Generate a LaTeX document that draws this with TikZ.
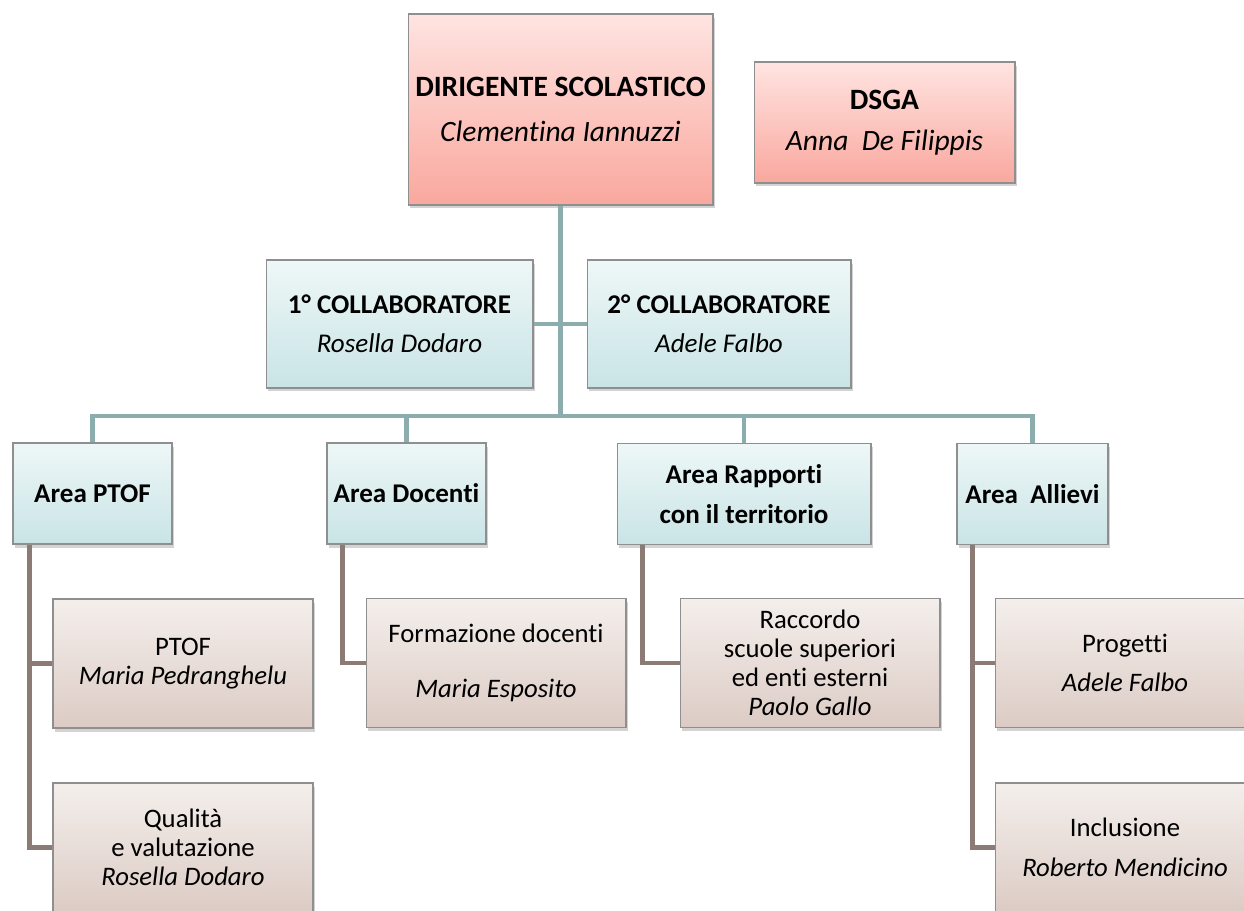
\documentclass[tikz,border=0pt]{standalone}
\usepackage{fontspec}
\setmainfont{Carlito}[Ligatures=NoCommon]
\usepackage{tikz}
\usetikzlibrary{calc,shadows}

\definecolor{pinktop}{HTML}{FFE4E1}
\definecolor{pinkbot}{HTML}{F9A89E}
\definecolor{tealtop}{HTML}{EEF7F7}
\definecolor{tealbot}{HTML}{C9E4E6}
\definecolor{taupetop}{HTML}{F4EFEC}
\definecolor{taupebot}{HTML}{DCCBC4}
\definecolor{tealline}{HTML}{8BADAE}
\definecolor{brownline}{HTML}{8C7B74}
\definecolor{boxframe}{HTML}{8F8F8F}

\tikzset{
	box/.style={draw=boxframe, line width=0.6pt, align=center, inner sep=2pt,
		drop shadow={opacity=0.35, shadow xshift=1pt, shadow yshift=-2pt}},
	headbox/.style={box, top color=pinktop, bottom color=pinkbot, font=\fontsize{16.8}{20}\selectfont},
	staffbox/.style={box, top color=tealtop, bottom color=tealbot, font=\fontsize{15.4}{18}\selectfont},
	areabox/.style={staffbox, minimum height=2.02cm},
	taskbox/.style={box, top color=taupetop, bottom color=taupebot, minimum width=5.2cm, minimum height=2.58cm,
		font=\fontsize{15.2}{16.6}\selectfont},
	trunk/.style={tealline, line width=2.8pt},
	branch/.style={brownline, line width=2.3pt},
}

\begin{document}
\begin{tikzpicture}[x=0.02cm, y=-0.02cm]
	\useasboundingbox (0,0) rectangle (1244,911);
	\clip (0,0) rectangle (1244,911);

	% direzione
	\node[headbox, minimum width=6.1cm, minimum height=3.82cm] (dir) at (560.5,109.5)
		{\textbf{DIRIGENTE SCOLASTICO}\\[5.6pt] \textit{Clementina Iannuzzi}};
	\node[headbox, minimum width=5.22cm, minimum height=2.42cm] (dsga) at (884.5,122.5)
		{\textbf{DSGA}\\[3.4pt] \textit{Anna\ \ De Filippis}};

	% collaboratori
	\node[staffbox, minimum width=5.34cm, minimum height=2.56cm] (coll1) at (399.5,324)
		{\textbf{1° COLLABORATORE}\\[4pt] \textit{Rosella Dodaro}};
	\node[staffbox, minimum width=5.28cm, minimum height=2.56cm] (coll2) at (719,324)
		{\textbf{2° COLLABORATORE}\\[4pt] \textit{Adele Falbo}};

	% aree
	\node[areabox, minimum width=3.18cm] (aptof) at (92.5,493.5) {\textbf{Area PTOF}};
	\node[areabox, minimum width=3.18cm] (adoc) at (406.5,493.5) {\textbf{Area Docenti}};
	\node[areabox, minimum width=5.08cm] (arap) at (744,494)
		{\textbf{Area Rapporti}\\[4.7pt] \textbf{con il territorio}};
	\node[areabox, minimum width=3.02cm] (aall) at (1032.5,494) {\textbf{Area\ \ Allievi}};

	% incarichi
	\node[taskbox] (kptof) at (183,663.5) {PTOF\\ \textit{Maria Pedranghelu}};
	\node[taskbox] (kqual) at (183,847.5) {Qualità\\ e valutazione\\ \textit{Rosella Dodaro}};
	\node[taskbox] (kform) at (496,663) {Formazione docenti\\[15pt] \textit{Maria Esposito}};
	\node[taskbox] (kracc) at (810,663)
		{Raccordo\\ scuole superiori\\ ed enti esterni\\ \textit{Paolo Gallo}};
	\node[taskbox] (kprog) at (1125,663) {Progetti\\[6pt] \textit{Adele Falbo}};
	\node[taskbox] (kincl) at (1125,847.5) {Inclusione\\[6pt] \textit{Roberto Mendicino}};

	% collegamenti
	\coordinate (bus) at (560.5,416);
	\draw[trunk] (dir) -- (bus);
	\draw[trunk] (coll1) -- (coll2);
	\foreach \a in {aptof,adoc,arap,aall}
		\draw[trunk] (bus) -| (\a);

	\draw[branch] ($(aptof.south west)+(17,0)$) |- (kptof);
	\draw[branch] ($(aptof.south west)+(17,0)$) |- (kqual);
	\draw[branch] ($(adoc.south west)+(16,0)$) |- (kform);
	\draw[branch] ($(arap.south west)+(26,0)$) |- (kracc);
	\draw[branch] ($(aall.south west)+(16,0)$) |- (kprog);
	\draw[branch] ($(aall.south west)+(16,0)$) |- (kincl);
\end{tikzpicture}
\end{document}
